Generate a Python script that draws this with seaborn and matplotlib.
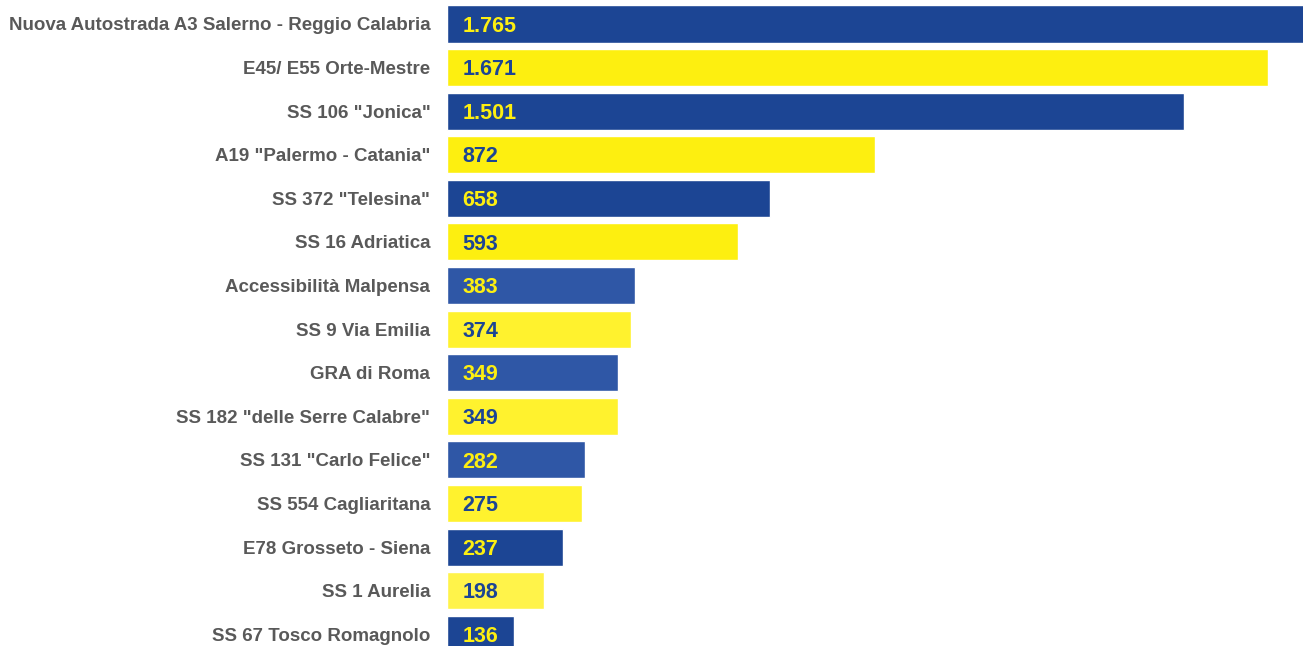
import matplotlib
matplotlib.use("Agg")
import matplotlib.pyplot as plt
import seaborn as sns
import pandas as pd

roads = [
    "Nuova Autostrada A3 Salerno - Reggio Calabria",
    "E45/ E55 Orte-Mestre",
    'SS 106 "Jonica"',
    'A19 "Palermo - Catania"',
    'SS 372 "Telesina"',
    "SS 16 Adriatica",
    "Accessibilità Malpensa",
    "SS 9 Via Emilia",
    "GRA di Roma",
    'SS 182 "delle Serre Calabre"',
    'SS 131 "Carlo Felice"',
    "SS 554 Cagliaritana",
    "E78 Grosseto - Siena",
    "SS 1 Aurelia",
    "SS 67 Tosco Romagnolo",
]
values = [1765, 1671, 1501, 872, 658, 593, 383, 374, 349, 349, 282, 275, 237, 198, 136]
bar_colors = [
    "#1C4594", "#FDEF10", "#1C4594", "#FDEF10", "#1C4594", "#FDEF10",
    "#2F57A6", "#FFF22E", "#2F57A6", "#FFF22E", "#2F57A6", "#FFF22E",
    "#1C4594", "#FFF34A", "#1C4594",
]

def fmt(v):
    return f"{v:,}".replace(",", ".")

sns.set_style("white")
plt.rcParams["font.family"] = ["Liberation Sans", "DejaVu Sans"]

df = pd.DataFrame({"road": roads, "value": values})

fig = plt.figure(figsize=(13.03, 6.46), dpi=100)
ax = fig.add_axes([447 / 1303, 0, 856 / 1303, 1])

sns.barplot(data=df, x="value", y="road", hue="road", palette=bar_colors,
            legend=False, width=0.85, saturation=1, orient="h", ax=ax)

ax.set_xlim(0, 1743)
ax.set_ylim(14.27, -0.55)

for i, (v, c) in enumerate(zip(values, bar_colors)):
    dark_bar = c.startswith("#1C") or c.startswith("#2F")
    txt_color = "#FDEF10" if dark_bar else "#1C4594"
    ax.text(32, i + 0.05, fmt(v), ha="left", va="center", fontsize=15.5,
            fontweight="bold", color=txt_color)

ax.set_xlabel("")
ax.set_ylabel("")
ax.set_xticks([])
ax.tick_params(axis="y", length=0, pad=12)
for lbl in ax.get_yticklabels():
    lbl.set_fontweight("bold")
    lbl.set_fontsize(13.5)
    lbl.set_color("#595959")
sns.despine(ax=ax, left=True, bottom=True)

fig.savefig("out.png", dpi=100)
